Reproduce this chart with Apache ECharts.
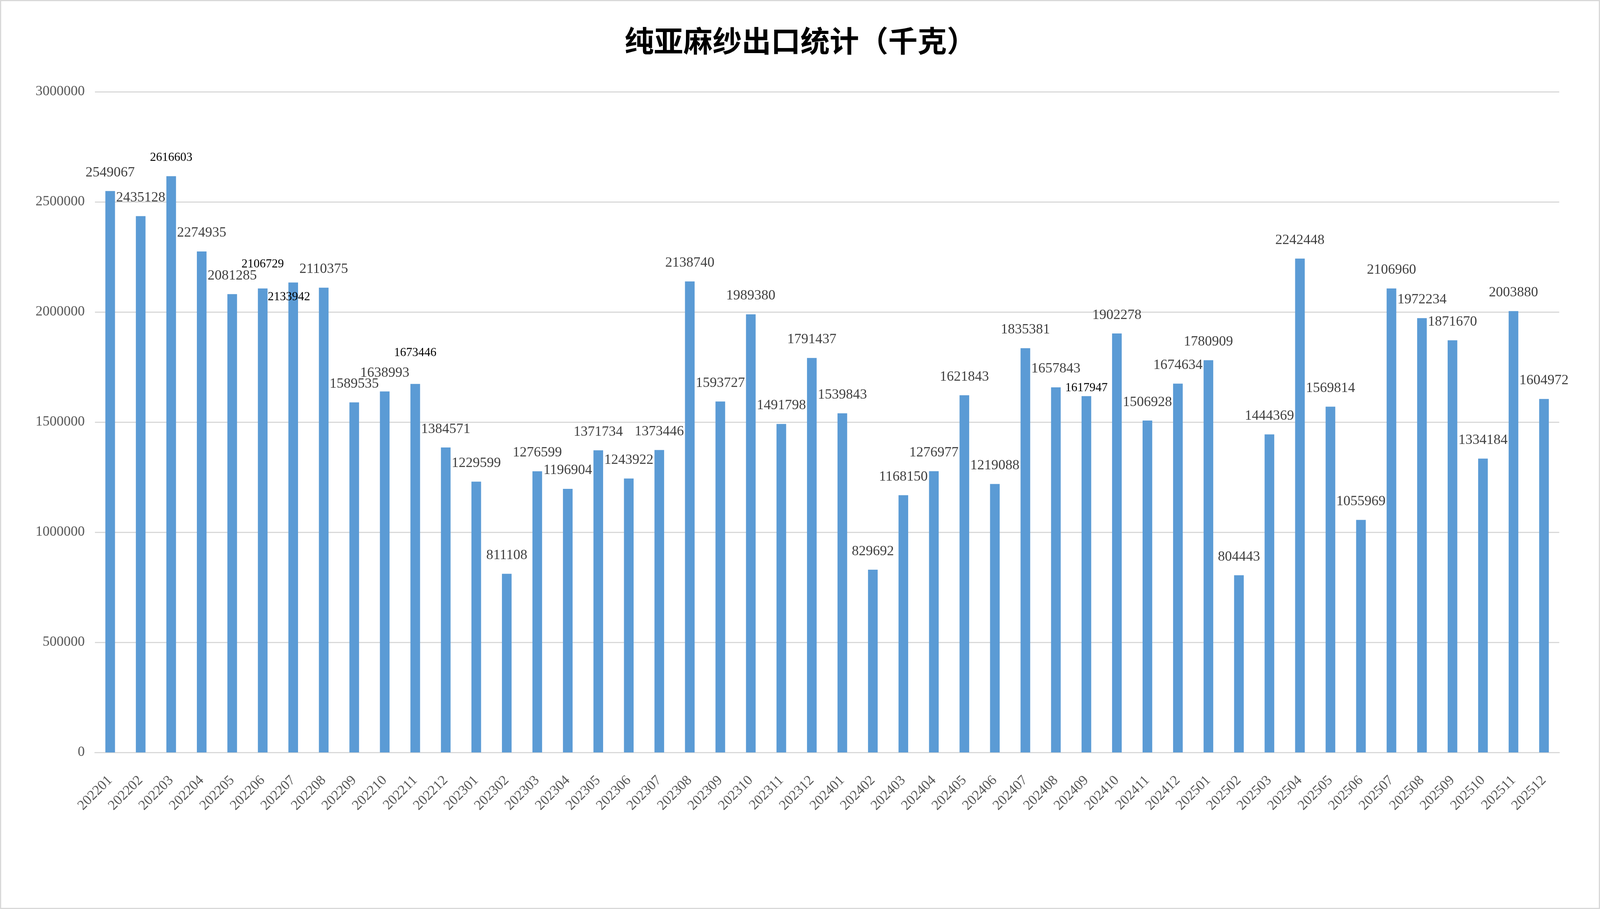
<!DOCTYPE html>
<html>
<head>
<meta charset="utf-8">
<title>纯亚麻纱出口统计</title>
<script src="https://cdn.jsdelivr.net/npm/echarts@6/dist/echarts.min.js"></script>
<style>
html, body { margin: 0; padding: 0; background: #fff; overflow: hidden; }
#main { width: 100vw; height: 100vh; }
</style>
</head>
<body>
<div id="main"></div>
<script>
// 月份
var months = [
	'202201', '202202', '202203', '202204', '202205', '202206', '202207', '202208', '202209', '202210', '202211', '202212',
	'202301', '202302', '202303', '202304', '202305', '202306', '202307', '202308', '202309', '202310', '202311', '202312',
	'202401', '202402', '202403', '202404', '202405', '202406', '202407', '202408', '202409', '202410', '202411', '202412',
	'202501', '202502', '202503', '202504', '202505', '202506', '202507', '202508', '202509', '202510', '202511', '202512'
];
// 出口量（千克）
var exportKg = [
	2549067, 2435128, 2616603, 2274935, 2081285, 2106729, 2133942, 2110375, 1589535, 1638993, 1673446, 1384571,
	1229599, 811108, 1276599, 1196904, 1371734, 1243922, 1373446, 2138740, 1593727, 1989380, 1491798, 1791437,
	1539843, 829692, 1168150, 1276977, 1621843, 1219088, 1835381, 1657843, 1617947, 1902278, 1506928, 1674634,
	1780909, 804443, 1444369, 2242448, 1569814, 1055969, 2106960, 1972234, 1871670, 1334184, 2003880, 1604972
];
var yTicks = [0, 500000, 1000000, 1500000, 2000000, 2500000, 3000000];

// 几个标签在原图里被手动挪过（原图按 5967x2328 量的）
var labelTweaks = {
	'202203': { small: true, distance: 32 },
	'202206': { small: true, distance: 46 },
	'202207': { small: true, position: 'insideTop', distance: 22, dx: -16 },
	'202211': { small: true, distance: 64 },
	'202409': { small: true, distance: 5 }
};

var chart = echarts.init(document.getElementById('main'));

function buildOption() {
	var W = chart.getWidth(), H = chart.getHeight();
	var sx = W / 5967, sy = H / 2328;
	var fs = Math.min(sx, sy);
	function px(v) { return v * sx; }
	function py(v) { return v * sy; }
	function fz(v) { return Math.round(v * fs); }

	var seriesData = exportKg.map(function (v, i) {
		var item = { value: v };
		var t = labelTweaks[months[i]];
		if (t) {
			item.label = {
				fontSize: t.small ? fz(45) : fz(52),
				color: t.small ? '#000' : '#404040',
				distance: py(t.distance)
			};
			if (t.position) item.label.position = t.position;
			if (t.dx) item.label.offset = [px(t.dx), 0];
		}
		return item;
	});

	var titleSize = fz(109);

	return {
		animation: false,
		backgroundColor: '#fff',
		title: {
			text: '纯亚麻纱出口统计（千克）',
			left: px(2322),
			top: py(107) - titleSize * 0.6,
			textStyle: {
				fontFamily: 'Noto Sans CJK SC',
				fontSize: titleSize,
				fontWeight: 'bold',
				color: '#000'
			}
		},
		graphic: [{
			type: 'rect',
			shape: { x: 1.5, y: 1.5, width: W - 3, height: H - 3 },
			style: { fill: 'none', stroke: '#d9d9d9', lineWidth: 3 },
			silent: true
		}],
		grid: {
			left: px(354),
			right: px(152),
			top: py(235),
			bottom: py(401)
		},
		xAxis: {
			type: 'category',
			data: months,
			axisLine: { lineStyle: { color: '#d9d9d9', width: 3 } },
			axisTick: { show: false },
			axisLabel: {
				interval: 0,
				rotate: 45,
				margin: py(66),
				fontFamily: 'Liberation Serif',
				fontSize: fz(52),
				color: '#595959'
			}
		},
		yAxis: {
			type: 'value',
			min: yTicks[0],
			max: yTicks[yTicks.length - 1],
			interval: yTicks[1] - yTicks[0],
			axisLine: { show: false },
			axisTick: { show: false },
			splitLine: { lineStyle: { color: '#d9d9d9', width: 3 } },
			axisLabel: {
				margin: px(38),
				fontFamily: 'Liberation Serif',
				fontSize: fz(52),
				color: '#595959',
				formatter: function (v) { return String(v); }
			}
		},
		series: [{
			type: 'bar',
			data: seriesData,
			barWidth: px(36),
			itemStyle: { color: '#5b9bd5' },
			label: {
				show: true,
				position: 'top',
				distance: py(29),
				fontFamily: 'Liberation Serif',
				fontSize: fz(52),
				color: '#404040'
			}
		}]
	};
}

chart.setOption(buildOption());
window.addEventListener('resize', function () {
	chart.resize();
	chart.setOption(buildOption(), true);
});
</script>
</body>
</html>
